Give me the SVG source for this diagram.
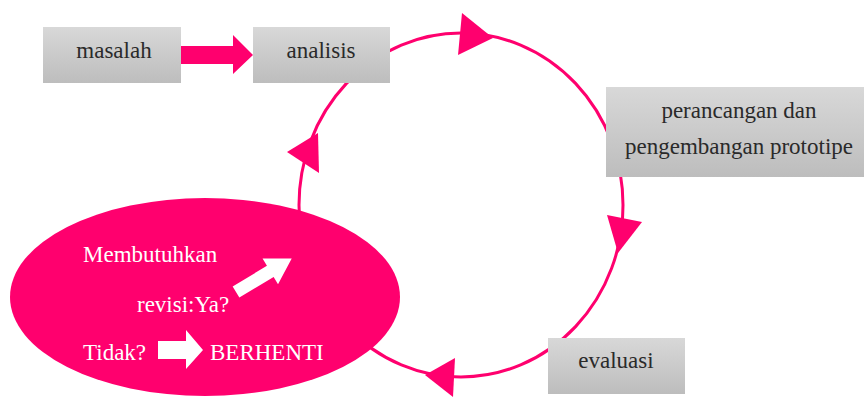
<svg xmlns="http://www.w3.org/2000/svg" width="864" height="397" viewBox="0 0 864 397">
<style>
.box{fill:url(#g);}
.lbl{font-family:"Liberation Serif","Times New Roman",serif;font-size:23px;fill:#2a2a2a;text-anchor:middle;}
.wt{font-family:"Liberation Serif","Times New Roman",serif;font-size:23px;fill:#ffffff;}
.pink{fill:#FF006E;}
.ring{fill:none;stroke:#FF006E;stroke-width:3;}
</style>
<defs>
<linearGradient id="g" x1="0" y1="0" x2="0" y2="1">
<stop offset="0" stop-color="#d8d8d8"/>
<stop offset="1" stop-color="#bdbdbd"/>
</linearGradient>
</defs>
<rect width="864" height="397" fill="#ffffff"/>
<g id="connectors">
<ellipse class="ring" cx="461" cy="205" rx="162" ry="172"/>
<polygon class="pink" points="462,13 493,38 458,55"/>
<polygon class="pink" points="287,152 318,133 319,173"/>
<polygon class="pink" points="607,215 642,222 618,253"/>
<polygon class="pink" points="425,375 455,358 453,397"/>
<polygon class="pink" points="181,46 233,46 233,35 253,55 233,74 233,64 181,64"/>
</g>
<g id="masalah">
<rect class="box" x="43" y="27" width="138" height="56"/>
<text class="lbl" x="114" y="58">masalah</text>
</g>
<g id="analisis">
<rect class="box" x="253" y="27" width="137" height="56"/>
<text class="lbl" x="321" y="58">analisis</text>
</g>
<g id="perancangan">
<rect class="box" x="606" y="87" width="258" height="90"/>
<text class="lbl" x="739" y="118">perancangan dan</text>
<text class="lbl" x="739" y="154">pengembangan prototipe</text>
</g>
<g id="evaluasi">
<rect class="box" x="548" y="338" width="137" height="56"/>
<text class="lbl" x="616" y="368">evaluasi</text>
</g>
<g id="keputusan">
<ellipse class="pink" cx="205" cy="297" rx="195" ry="99"/>
<text class="wt" x="83" y="262">Membutuhkan</text>
<text class="wt" x="137" y="312">revisi:Ya?</text>
<text class="wt" x="83" y="360">Tidak?</text>
<text class="wt" x="210" y="360">BERHENTI</text>
<polygon fill="#ffffff" transform="translate(236,292) rotate(-31)" points="0,-6.5 40,-6.5 40,-15 65,0 40,15 40,6.5 0,6.5"/>
<polygon fill="#ffffff" points="158,341 186,341 186,330 203,350 186,369 186,359 158,359"/>
</g>
</svg>
